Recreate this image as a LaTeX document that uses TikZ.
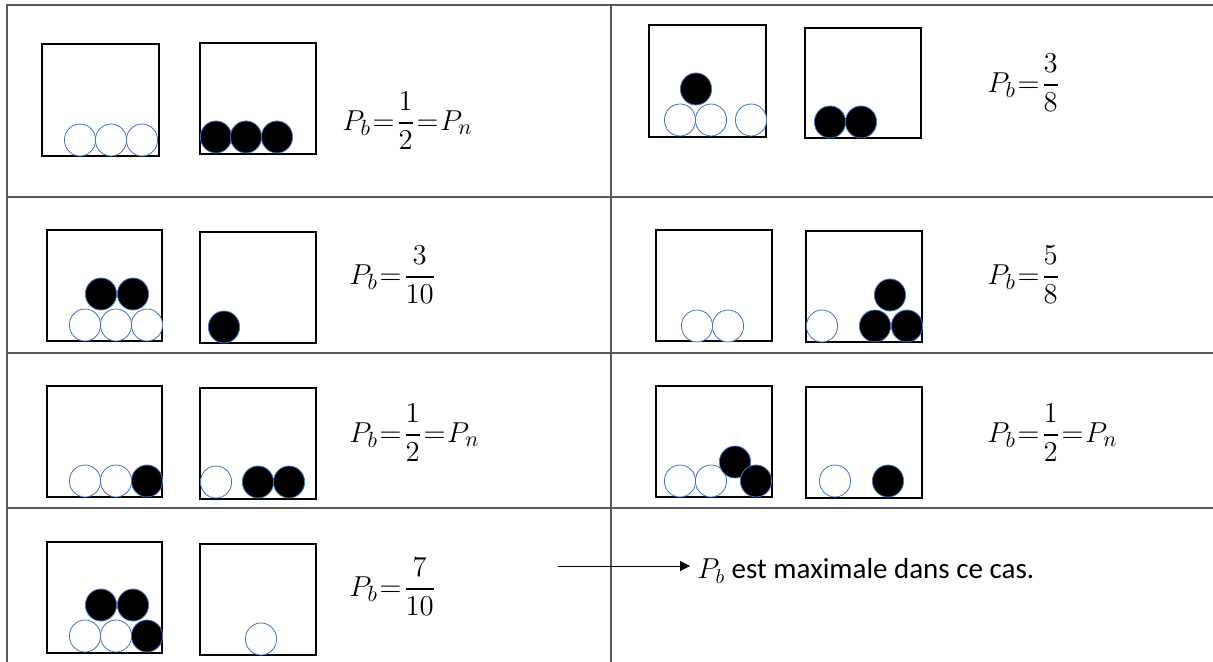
\documentclass[tikz,border=0pt]{standalone}
\usepackage{amsmath}
\usepackage{fontspec}
\newfontfamily\notefont{Carlito}
\usetikzlibrary{arrows.meta}
\definecolor{ballblue}{RGB}{68,114,196}
\newcommand\tightfrm[1]{$\thickmuskip=1mu\relax #1$}

\begin{document}
\begin{tikzpicture}[x=0.5pt, y=-0.5pt,
        grid/.style={draw=black!65, line width=0.9pt},
        urn/.style={draw=black, line width=0.55pt},
        wball/.style={draw=ballblue, fill=white, line width=0.4pt, x radius=7.8pt, y radius=8pt},
        bball/.style={draw=ballblue, fill=black, line width=0.4pt, x radius=7.8pt, y radius=8pt},
        frml/.style={anchor=west, inner sep=0pt, font=\fontsize{15.5}{18}\selectfont},
        arr/.style={-{Triangle[length=5pt, width=5pt]}, line width=0.5pt, draw=black}
    ]
    \useasboundingbox (0,0) rectangle (1213,662);
    \draw[grid] (7,662) -- (7,5) -- (1213,5);
    \draw[grid] (611,5) -- (611,662);
    \foreach \y in {197,353,508} \draw[grid] (7,\y) -- (1213,\y);

    % row 1
    \draw[urn] (42,44) rectangle (159,156);
    \foreach \x in {80,111,142} \draw[wball] (\x,140) circle;
    \draw[urn] (200,43) rectangle (316,154);
    \foreach \x in {216,246,277} \draw[bball] (\x,137) circle;
    \node[frml] (pa) at (342,121) {\tightfrm{P_b=\dfrac{1}{2}=P_n}};

    \draw[urn] (649,25) rectangle (766,137);
    \foreach \x in {680,711,751} \draw[wball] (\x,120) circle;
    \draw[bball] (696,89) circle;
    \draw[urn] (805,28) rectangle (921,138);
    \foreach \x in {830,861} \draw[bball] (\x,122) circle;
    \node[frml] (pb) at (987,83) {\tightfrm{P_b=\dfrac{3}{8}}};

    % row 2
    \draw[urn] (47,230) rectangle (162,341);
    \foreach \x in {85,116,147} \draw[wball] (\x,325) circle;
    \foreach \x in {101,133} \draw[bball] (\x,294) circle;
    \draw[urn] (200,232) rectangle (316,343);
    \draw[bball] (224,327) circle;
    \node[frml] (pc) at (349,275) {\tightfrm{P_b=\dfrac{3}{10}}};

    \draw[urn] (656,230) rectangle (772,341);
    \foreach \x in {697,728} \draw[wball] (\x,326) circle;
    \draw[urn] (806,231) rectangle (922,342);
    \draw[wball] (822,326) circle;
    \foreach \x in {875,907} \draw[bball] (\x,326) circle;
    \draw[bball] (890,295) circle;
    \node[frml] (pd) at (987,275) {\tightfrm{P_b=\dfrac{5}{8}}};

    % row 3
    \draw[urn] (47,386) rectangle (162,497);
    \foreach \x in {85,116} \draw[wball] (\x,481) circle;
    \draw[bball] (147,481) circle;
    \draw[urn] (200,388) rectangle (316,499);
    \draw[wball] (216,482) circle;
    \foreach \x in {258,289} \draw[bball] (\x,482) circle;
    \node[frml] (pe) at (349,433) {\tightfrm{P_b=\dfrac{1}{2}=P_n}};

    \draw[urn] (656,386) rectangle (772,497);
    \foreach \x in {680,711} \draw[wball] (\x,481) circle;
    \draw[bball] (735,462) circle;
    \draw[bball] (756,481) circle;
    \draw[urn] (806,387) rectangle (922,498);
    \draw[wball] (835,481) circle;
    \draw[bball] (888,481) circle;
    \node[frml] (pf) at (987,433) {\tightfrm{P_b=\dfrac{1}{2}=P_n}};

    % row 4
    \draw[urn] (47,542) rectangle (162,653);
    \foreach \x in {85,116} \draw[wball] (\x,636) circle;
    \draw[bball] (147,636) circle;
    \foreach \x in {101,133} \draw[bball] (\x,605) circle;
    \draw[urn] (200,544) rectangle (316,655);
    \draw[wball] (261,639) circle;
    \node[frml] (pg) at (349,587) {\tightfrm{P_b=\dfrac{7}{10}}};

    \coordinate (tail) at (558,566);
    \node[anchor=west, inner xsep=3.5pt, inner ysep=0pt, font=\notefont\fontsize{14.5}{17}\selectfont]
        (note) at (690,571) {$P_b$ est maximale dans ce cas.};
    \draw[arr] (tail) -- (tail -| note.west);
\end{tikzpicture}
\end{document}
